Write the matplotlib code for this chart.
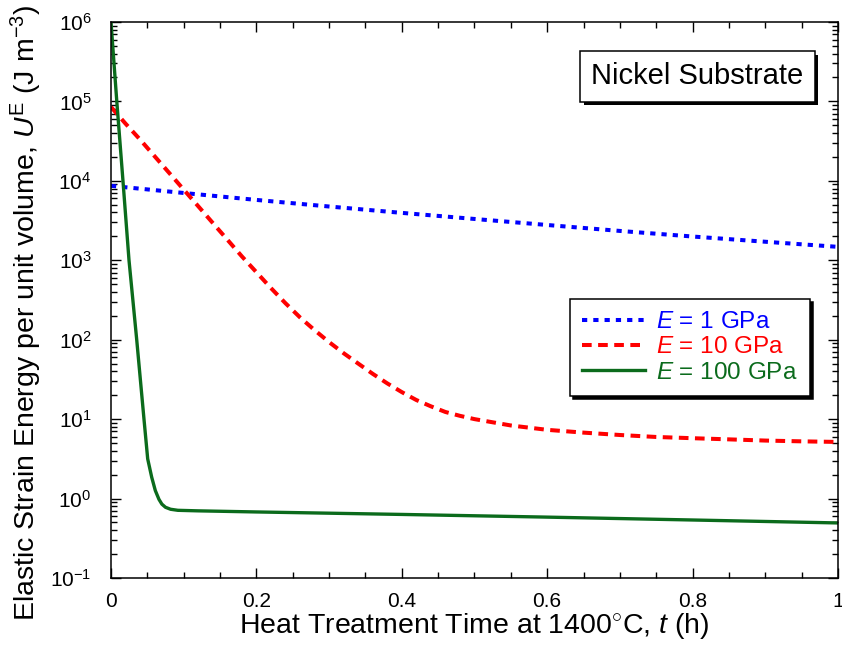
import numpy as np
import matplotlib
matplotlib.use("Agg")
import matplotlib.pyplot as plt
from matplotlib import ticker
from matplotlib import patheffects

plt.rcParams["font.family"] = ["Liberation Sans", "DejaVu Sans"]
plt.rcParams["mathtext.fontset"] = "custom"
plt.rcParams["mathtext.rm"] = "Liberation Sans"
plt.rcParams["mathtext.it"] = "Liberation Sans:italic"
plt.rcParams["mathtext.bf"] = "Liberation Sans:bold"

# E = 1 GPa (blue dotted)
t_1gpa = [0.0, 0.1, 0.2, 0.3, 0.4, 0.5, 0.6, 0.7, 0.8, 0.9, 1.0]
u_1gpa = [8650, 7030, 5750, 4750, 3950, 3310, 2780, 2340, 1990, 1710, 1475]

# E = 10 GPa (red dashed)
t_10gpa = [0.0, 0.02, 0.04, 0.06, 0.08, 0.10, 0.12, 0.14, 0.16, 0.18,
           0.20, 0.22, 0.24, 0.26, 0.28, 0.30, 0.32, 0.34, 0.36, 0.38,
           0.40, 0.42, 0.44, 0.46, 0.48, 0.50, 0.55, 0.60, 0.65, 0.70,
           0.75, 0.80, 0.85, 0.90, 0.95, 1.0]
u_10gpa = [85100, 52500, 33100, 20400, 12600, 7760, 4790, 2950, 1820, 1120,
           708, 447, 288, 191, 132, 93.3, 67.6, 50.1, 37.2, 28.2,
           21.9, 17.4, 14.5, 12.3, 11.0, 10.0, 8.32, 7.33, 6.76, 6.31,
           5.96, 5.75, 5.56, 5.37, 5.25, 5.16]

# E = 100 GPa (green solid)
t_100gpa = [0.0, 0.008, 0.0165, 0.0248, 0.0354, 0.0454, 0.0505, 0.056, 0.061,
            0.066, 0.070, 0.075, 0.082, 0.092, 0.12, 0.2, 0.4, 0.59, 0.8, 1.0]
u_100gpa = [1.0e6, 1.0e5, 1.0e4, 1.0e3, 100, 10, 3.16, 1.86, 1.26,
            0.977, 0.851, 0.776, 0.733, 0.711, 0.700, 0.678, 0.631, 0.586, 0.537, 0.493]

x_ticks = [0, 0.2, 0.4, 0.6, 0.8, 1.0]
x_tick_labels = ["0", "0.2", "0.4", "0.6", "0.8", "1"]

fig = plt.figure(figsize=(8.42, 6.46), dpi=100)
ax = fig.add_axes([0.1318, 0.1053, 0.8634, 0.8607])

ax.plot(t_1gpa, u_1gpa, color="#0000ff", lw=2.9, linestyle=(0, (1.3, 1.5)),
        label="$E$ = 1 GPa")
ax.plot(t_10gpa, u_10gpa, color="#ff0000", lw=2.9, linestyle=(0, (2.4, 1.6)),
        label="$E$ = 10 GPa")
ax.plot(t_100gpa, u_100gpa, color="#0b6b1c", lw=2.4, linestyle="-",
        label="$E$ = 100 GPa")

ax.set_yscale("log")
ax.set_xlim(0, 1)
ax.set_ylim(1e-1, 1e6)
ax.set_xticks(x_ticks)
ax.set_xticklabels(x_tick_labels)
ax.xaxis.set_minor_locator(ticker.MultipleLocator(0.05))
ax.yaxis.set_major_locator(ticker.LogLocator(base=10, numticks=10))
ax.yaxis.set_minor_locator(ticker.LogLocator(base=10, subs=np.arange(2, 10), numticks=20))
ax.yaxis.set_minor_formatter(ticker.NullFormatter())

ax.tick_params(which="both", direction="in", top=True, right=True, width=1.0)
ax.tick_params(which="major", length=7, labelsize=15)
ax.tick_params(which="minor", length=4)
ax.tick_params(axis="x", which="major", pad=10)
ax.tick_params(axis="y", which="major", pad=14)
for sp in ax.spines.values():
    sp.set_linewidth(1.1)

ax.set_xlabel("Heat Treatment Time at 1400$^{\\circ}$C, $t$ (h)", fontsize=20.5, labelpad=0)
ax.set_ylabel("Elastic Strain Energy per unit volume, $U^{\\rm E}$ (J m$^{-3}$)",
              fontsize=20.5)
ax.yaxis.set_label_coords(-0.092, 0.477)

leg = ax.legend(loc="upper right", bbox_to_anchor=(0.9615, 0.502), borderaxespad=0,
                fontsize=17.5, frameon=True, fancybox=False, edgecolor="black",
                framealpha=1, handlelength=2.6, handletextpad=0.45,
                labelspacing=0.14, borderpad=0.5, labelcolor="linecolor",
                shadow={"color": "black", "alpha": 1})
leg.get_frame().set_linewidth(1.1)

txt = ax.text(0.8067, 0.902, "Nickel Substrate", transform=ax.transAxes,
              ha="center", va="center", fontsize=21,
              bbox=dict(boxstyle="square,pad=0.38", facecolor="white",
                        edgecolor="black", linewidth=1.1))
txt.get_bbox_patch().set_path_effects([
    patheffects.SimplePatchShadow(offset=(2.5, -2.5), shadow_rgbFace="black", alpha=1),
    patheffects.Normal()])

fig.savefig("out.png", dpi=100)
